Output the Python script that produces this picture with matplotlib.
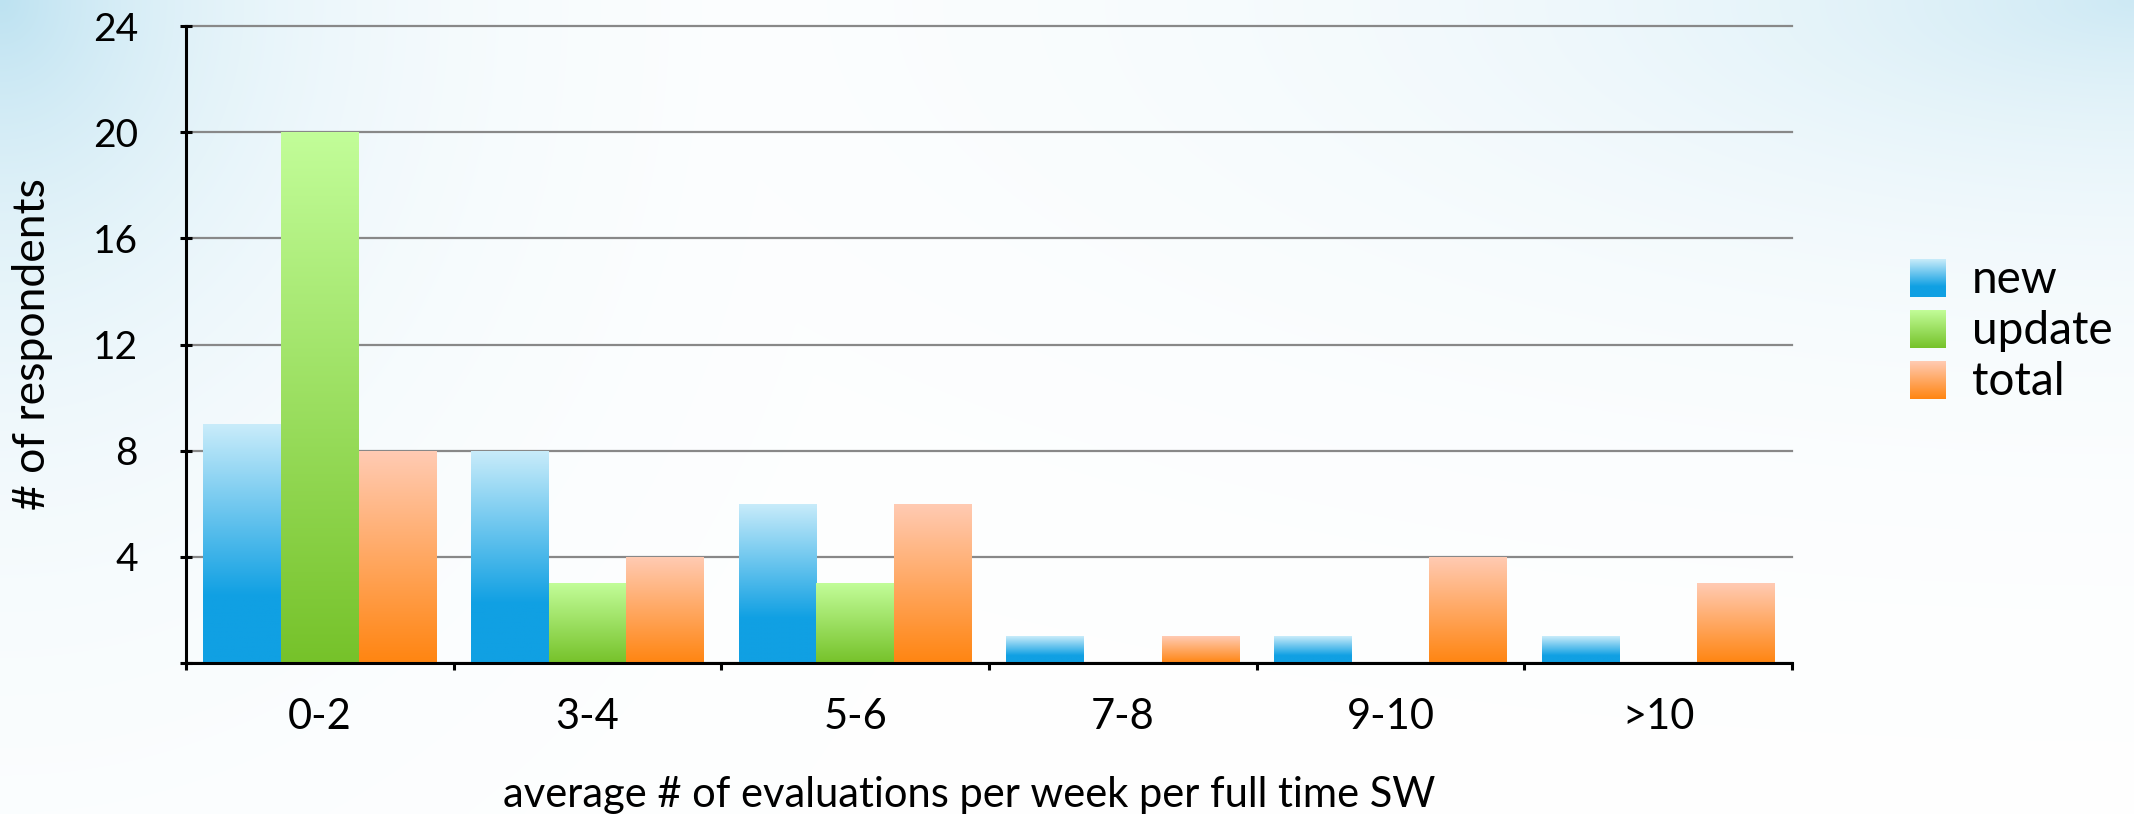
import numpy as np
import matplotlib
matplotlib.use("Agg")
import matplotlib.pyplot as plt
from matplotlib.colors import to_rgb

plt.rcParams['font.family'] = ['Lato', 'DejaVu Sans']

# survey answers per bucket
categories = ['0-2', '3-4', '5-6', '7-8', '9-10', '>10']
series = ['new', 'update', 'total']
new_counts = [9, 8, 6, 1, 1, 1]
update_counts = [20, 3, 3, 0, 0, 0]
total_counts = [8, 4, 6, 1, 4, 3]

# (top colour, bottom colour, point where the bottom colour takes over)
fills = {
    'new': ('#c9ecfa', '#10a0e3', 0.72),
    'update': ('#c2fd99', '#76c22a', 1.0),
    'total': ('#ffcbb4', '#ff8511', 1.0),
}


def gradient(top, bottom, stop, n=256):
    t = np.clip(np.linspace(0, 1, n) / stop, 0, 1)[:, None, None]
    a = np.array(to_rgb(top))[None, None, :]
    b = np.array(to_rgb(bottom))[None, None, :]
    return a + (b - a) * t


W, H = 2134, 814
fig = plt.figure(figsize=(W / 100, H / 100), dpi=100)

# soft blue haze in the top corners
bg = fig.add_axes([0, 0, 1, 1], zorder=-1)
yy, xx = np.mgrid[0:H:4, 0:W:4].astype(float)
haze_left = np.exp(-np.hypot(xx / 250, yy / 290))
haze_right = 0.75 * np.exp(-np.hypot((W - xx) / 520, yy / 190))
haze = np.maximum(haze_left, haze_right)[..., None]
blue = np.array(to_rgb('#bde2f1'))
bg.imshow(1 - haze * (1 - blue), extent=(0, W, H, 0), aspect='auto',
          interpolation='bilinear')
bg.set_xlim(0, W)
bg.set_ylim(H, 0)
bg.axis('off')

ax = fig.add_axes([186 / W, 1 - 663 / H, (1792 - 186) / W, (663 - 26) / H])
ax.patch.set_alpha(0)

x = np.arange(len(categories))
width = 0.29
for i, (name, vals) in enumerate(zip(series, [new_counts, update_counts, total_counts])):
    bars = ax.bar(x + (i - 1) * width, vals, width, facecolor='none',
                  edgecolor='none', zorder=3)
    img = gradient(*fills[name])
    for b in bars:
        h = b.get_height()
        if h == 0:
            continue
        im = ax.imshow(img, extent=(b.get_x(), b.get_x() + b.get_width(), 0, h),
                       aspect='auto', origin='upper', zorder=3)
        im.set_clip_path(b)

ax.set_xlim(-0.5, len(categories) - 0.5)
ax.set_ylim(0, 24)

# y axis
ax.set_yticks(range(0, 25, 4), [''] + [str(v) for v in range(4, 25, 4)])
ax.tick_params(axis='y', direction='inout', length=9, width=2.2, pad=30,
               labelsize=28)
ax.yaxis.grid(True, color='#888888', linewidth=1.6, zorder=1)
for gl in ax.get_ygridlines():
    gl.set_clip_on(False)
ax.set_axisbelow(True)

# x axis: ticks between buckets, labels centred on them
ax.set_xticks(np.arange(len(categories) + 1) - 0.5, [''] * (len(categories) + 1))
ax.set_xticks(x, categories, minor=True)
ax.tick_params(axis='x', which='major', direction='out', length=5, width=2.2)
ax.tick_params(axis='x', which='minor', length=0, pad=25, labelsize=30)

for side in ['top', 'right']:
    ax.spines[side].set_visible(False)
for side in ['left', 'bottom']:
    ax.spines[side].set_linewidth(2.2)
    ax.spines[side].set_zorder(4)

ax.set_ylabel('# of respondents', fontsize=32)
ax.yaxis.set_label_coords(-0.083, 0.5)
ax.set_xlabel('average # of evaluations per week per full time SW', fontsize=30)
ax.xaxis.set_label_coords(0.4875, -0.178)

# legend with the same gradient swatches
for i, name in enumerate(series):
    top = 259 + 51 * i
    bg.imshow(gradient(*fills[name]), extent=(1910, 1946, top + 38, top),
              aspect='auto', interpolation='bilinear')
    bg.text(1972, top + 34, name, fontsize=33, va='baseline', ha='left')
bg.set_xlim(0, W)
bg.set_ylim(H, 0)

fig.savefig('out.png', dpi=100)
